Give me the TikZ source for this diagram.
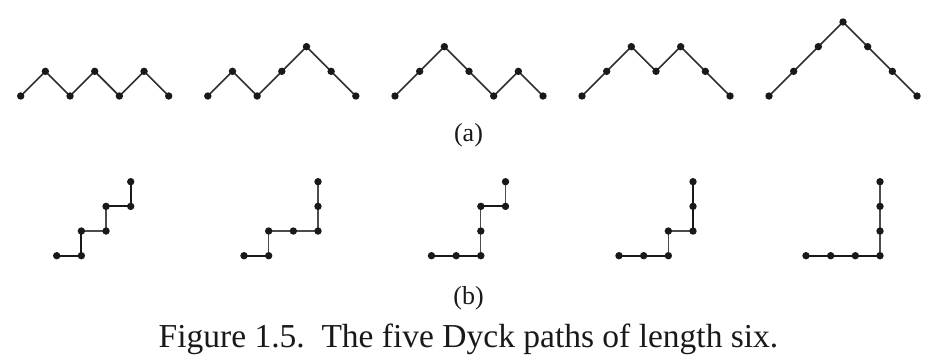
\documentclass[tikz,border=0pt]{standalone}
\usepackage{fontspec}
\setmainfont{Liberation Serif}
\begin{document}
\begin{tikzpicture}[x=1pt,y=-1pt,
  dot/.style={circle,fill=black!90,inner sep=0pt,minimum size=7.4pt},
  seg/.style={draw=black!82,line width=1.6pt},
  heavy/.style={draw=black!90,line width=2.2pt},
  light/.style={draw=black!70,line width=1.1pt},
  lbl/.style={font=\fontsize{26}{31}\selectfont,text=black!90,inner sep=0pt},
  capt/.style={font=\fontsize{33.5}{38}\selectfont,text=black!90,inner sep=0pt}]
\useasboundingbox (0,0) rectangle (937,362);

% (a) mountain paths: heights after each step
\foreach \p/\x/\hs in {1/20.7/{0,1,0,1,0,1,0},
                       2/207.8/{0,1,0,1,2,1,0},
                       3/395.0/{0,1,2,1,0,1,0},
                       4/582.0/{0,1,2,1,2,1,0},
                       5/769.0/{0,1,2,3,2,1,0}}{
  \begin{scope}[shift={(\x,96)},x=24.67pt,y=24.67pt]
    \foreach \h [count=\i from 0, remember=\i as \j (initially 0)] in \hs {
      \coordinate (a\p-\i) at (\i,\h);
      \ifnum\i>0 \draw[seg] (a\p-\j) -- (a\p-\i); \fi
    }
    \foreach \i in {0,...,6} \node[dot] (da\p-\i) at (a\p-\i) {};
  \end{scope}
}

% (b) lattice paths: end point and stroke of each step
\foreach \p/\x/\steps in {
    1/56.7/{1/0/heavy,1/1/heavy,2/1/light,2/2/light,3/2/heavy,3/3/heavy},
    2/244.0/{1/0/heavy,1/1/light,2/1/light,3/1/light,3/2/light,3/3/light},
    3/431.5/{1/0/heavy,2/0/heavy,2/1/light,2/2/light,3/2/heavy,3/3/light},
    4/619.0/{1/0/heavy,2/0/heavy,2/1/light,3/1/light,3/2/heavy,3/3/heavy},
    5/806.0/{1/0/heavy,2/0/heavy,3/0/heavy,3/1/light,3/2/light,3/3/light}}{
  \begin{scope}[shift={(\x,255.7)},x=24.67pt,y=24.67pt]
    \coordinate (b\p-0) at (0,0);
    \foreach \u/\v/\w [count=\i, remember=\i as \j (initially 0)] in \steps {
      \coordinate (b\p-\i) at (\u,\v);
      \draw[\w] (b\p-\j) -- (b\p-\i);
    }
    \foreach \i in {0,...,6} \node[dot] (db\p-\i) at (b\p-\i) {};
  \end{scope}
}

\node[lbl,anchor=base] (capa) at (468.5,141) {(a)};
\node[lbl,anchor=base] (capb) at (468.5,304) {(b)};
\node[capt,anchor=base] (fig) at (468.5,347)
  {Figure 1.5.\ \ The five Dyck paths of length six.};
\end{tikzpicture}
\end{document}
